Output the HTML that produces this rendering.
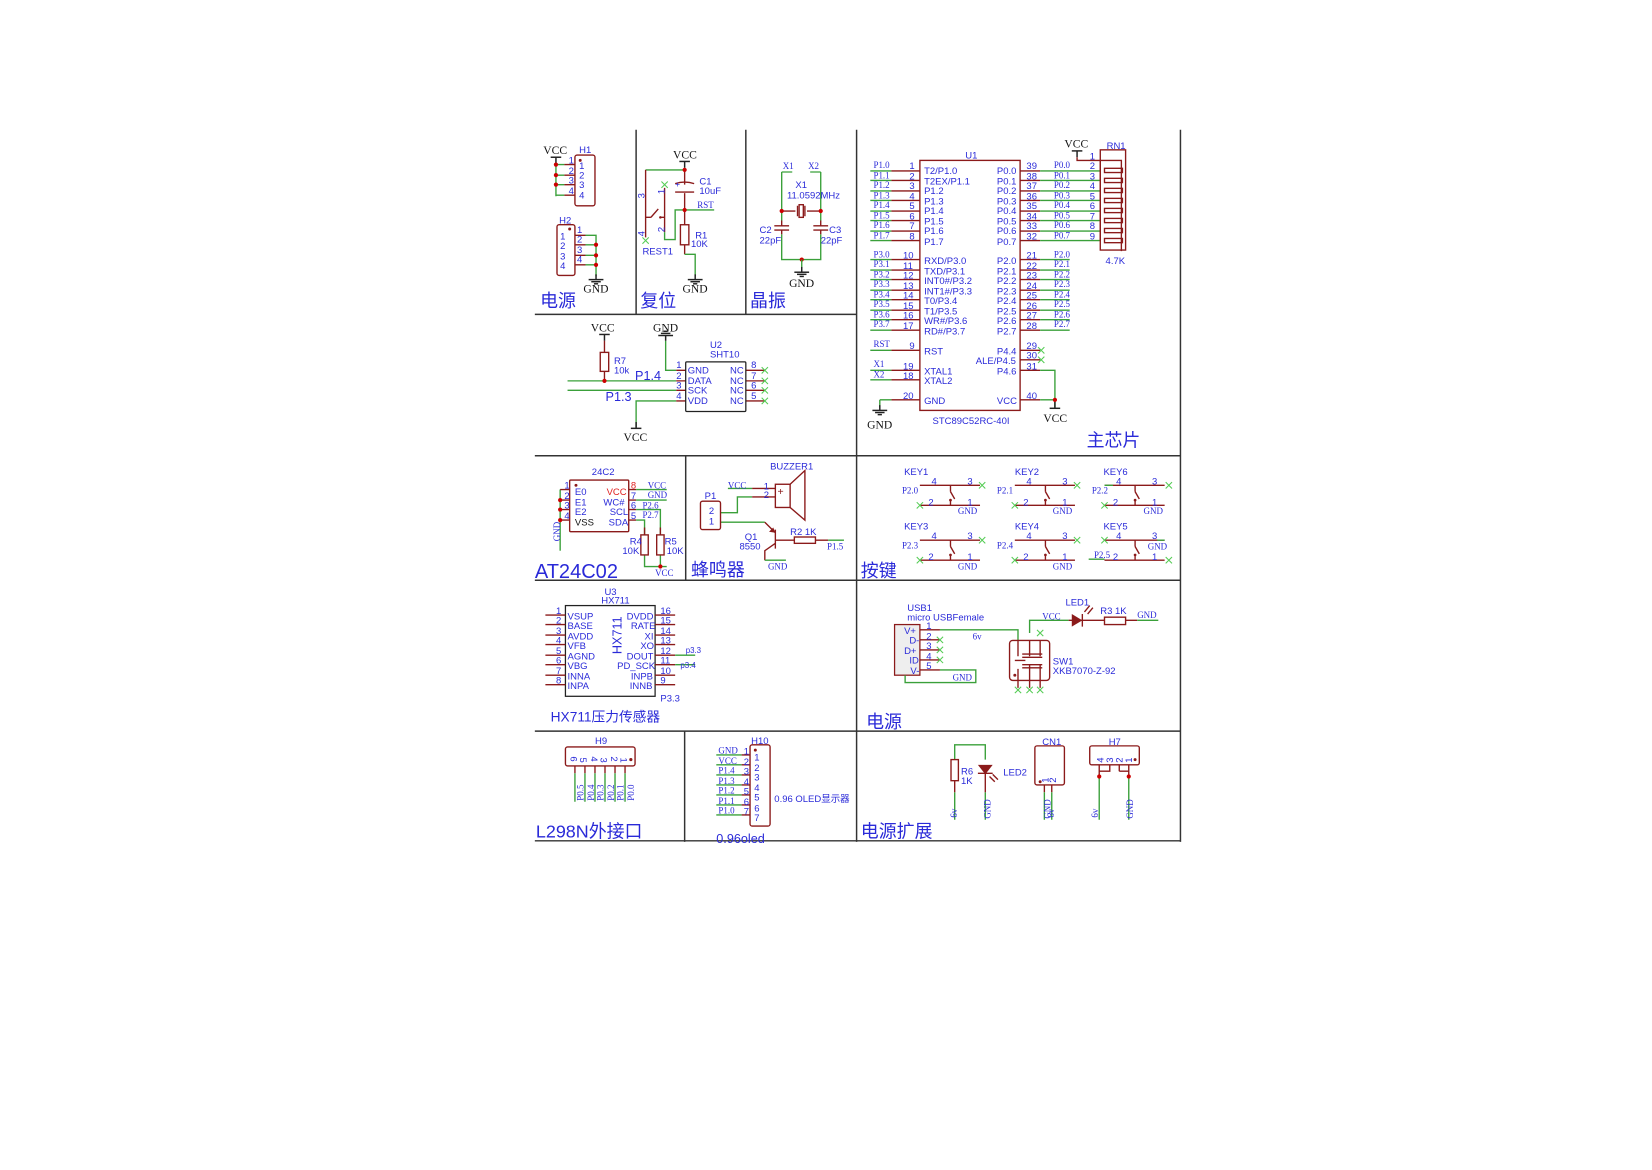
<!DOCTYPE html>
<html><head><meta charset="utf-8"><style>
html,body{margin:0;padding:0;background:#fff;}
svg{display:block}
.r{stroke:#8b1a1a;fill:none;stroke-width:1.3}
.g{stroke:#3aa03a;fill:none;stroke-width:1.3}
.k{stroke:#222;fill:none;stroke-width:1.4}
.x{stroke:#55cc55;fill:none;stroke-width:1}
text{font-family:"Liberation Sans","Noto Sans CJK SC",sans-serif;fill:#2a2ad8;font-size:9px}
.s{font-family:"Liberation Serif",serif;font-size:8.5px}
.b{font-family:"Liberation Serif",serif;fill:#111;font-size:11px}
.t{font-size:17px}
.dot{fill:#cc0000}
.dr{fill:#8b1a1a}
</style></head><body>
<svg width="1652" height="1170" viewBox="0 0 1566 1109" xmlns="http://www.w3.org/2000/svg">
<defs>
<g id="key">
<line class="r" x1="0" y1="0" x2="57" y2="0"/><line class="r" x1="0" y1="19" x2="57" y2="19"/>
<line class="r" x1="29" y1="0" x2="29" y2="6"/><line class="r" x1="29" y1="6" x2="33" y2="13"/>
<line class="r" x1="29" y1="19" x2="29" y2="14"/><circle cx="29" cy="14" r="1.3" class="dr"/>
</g>
<path id="xm" class="x" d="M-3,-3L3,3M-3,3L3,-3"/>
<g id="gnd"><line class="k" x1="0" y1="0" x2="0" y2="5" stroke-width="1"/><line class="k" x1="-7" y1="5" x2="7" y2="5" stroke-width="1"/><line class="k" x1="-4.5" y1="7" x2="4.5" y2="7" stroke-width="1"/><line class="k" x1="-2" y1="9" x2="2" y2="9" stroke-width="1"/></g>
<g id="vcc"><line class="k" x1="-5" y1="0" x2="5" y2="0" stroke-width="1"/><line class="k" x1="0" y1="0" x2="0" y2="6" stroke-width="1"/></g>
</defs>

<!-- frame lines -->
<g stroke="#333" stroke-width="1.4">
<line x1="603" y1="123" x2="603" y2="298"/>
<line x1="707" y1="123" x2="707" y2="298"/>
<line x1="812" y1="123" x2="812" y2="798"/>
<line x1="1119" y1="123" x2="1119" y2="798"/>
<line x1="650" y1="432" x2="650" y2="550"/>
<line x1="649" y1="693" x2="649" y2="798"/>
<line x1="507" y1="298" x2="812" y2="298"/>
<line x1="507" y1="432" x2="1119" y2="432"/>
<line x1="507" y1="550" x2="1119" y2="550"/>
<line x1="507" y1="693" x2="1119" y2="693"/>
<line x1="507" y1="797" x2="1119" y2="797"/>
</g>

<!-- 电源 H1/H2 -->
<text class="b" x="515" y="146">VCC</text>
<use href="#vcc" x="527" y="149"/>
<path class="g" d="M527,155V186M527,156H535M527,166H535M527,175H535M527,185H535"/>
<path class="r" d="M535,156H545M535,166H545M535,175H545M535,185H545"/>
<circle class="dot" cx="527" cy="156" r="2"/><circle class="dot" cx="527" cy="166" r="2"/><circle class="dot" cx="527" cy="175" r="2"/>
<rect class="r" x="545" y="147" width="19" height="48" rx="2"/>
<circle class="dr" cx="550" cy="152" r="1.4"/>
<text x="549" y="145">H1</text>
<text x="539" y="155">1</text><text x="539" y="165">2</text><text x="539" y="174">3</text><text x="539" y="184">4</text>
<text x="549" y="160">1</text><text x="549" y="169">2</text><text x="549" y="178">3</text><text x="549" y="188">4</text>
<rect class="r" x="528" y="213" width="17" height="48" rx="2"/>
<circle class="dr" cx="540" cy="217" r="1.4"/>
<text x="530" y="212">H2</text>
<text x="531" y="227">1</text><text x="531" y="236">2</text><text x="531" y="246">3</text><text x="531" y="255">4</text>
<text x="547" y="221">1</text><text x="547" y="230">2</text><text x="547" y="240">3</text><text x="547" y="249">4</text>
<path class="r" d="M545,223H555M545,232H555M545,242H555M545,251H555"/>
<path class="g" d="M555,223H565V262M555,232H565M555,242H565M555,251H565"/>
<circle class="dot" cx="565" cy="232" r="2"/><circle class="dot" cx="565" cy="242" r="2"/><circle class="dot" cx="565" cy="251" r="2"/>
<use href="#gnd" x="565" y="260"/>
<text class="b" x="553" y="277">GND</text>
<text class="t" x="512" y="291">电源</text>

<!-- 复位 -->
<text class="b" x="638" y="150">VCC</text>
<use href="#vcc" x="649" y="153"/>
<path class="g" d="M649,159V163M612,161H649"/>
<circle class="dot" cx="649" cy="161" r="2"/>
<path class="r" d="M612,161V225M630,178V220M649,163V175M649,183V213M649,232V241"/>
<path class="r" d="M612,206H617M617,206L624,198M626,206H630"/><circle class="dr" cx="626" cy="206" r="1.2"/>
<path class="r" d="M640,174Q649,171 658,174M640,182H658"/>
<text x="640" y="177" style="font-size:8px">+</text>
<path class="g" d="M630,220V227H640V199H677M649,241H659V262"/>
<circle class="dot" cx="649" cy="199" r="2"/>
<rect class="r" x="645" y="213" width="8" height="19"/>
<use href="#xm" x="630" y="175"/><use href="#xm" x="612" y="228"/>
<text x="663" y="175">C1</text><text x="663" y="184">10uF</text>
<text class="s" x="661" y="197">RST</text>
<text x="659" y="226">R1</text><text x="655" y="234">10K</text>
<text x="609" y="241">REST1</text>
<text x="601" y="184" transform="rotate(-90 608 181)" >3</text>
<text x="624" y="184" transform="rotate(-90 627 181)">1</text>
<text x="601" y="220" transform="rotate(-90 608 217)">4</text>
<text x="624" y="220" transform="rotate(-90 627 217)">2</text>
<use href="#gnd" x="659" y="260"/>
<text class="b" x="647" y="277">GND</text>
<text class="t" x="607" y="291">复位</text>

<!-- 晶振 -->
<text class="s" x="742" y="160">X1</text><text class="s" x="766" y="160">X2</text>
<path class="g" d="M741,163H751M768,163H778M741,163V209M778,163V209M741,222V246H778V222"/>
<path class="r" d="M741,200H754M765,200H778M756,195V205M763,195V205"/>
<rect class="r" x="757.5" y="194" width="4" height="12"/>
<path class="r" d="M741,209V214M778,209V214M734,214H748M734,218H748M771,214H785M771,218H785M741,218V222M778,218V222"/>
<circle class="dot" cx="741" cy="200" r="2"/><circle class="dot" cx="778" cy="200" r="2"/><circle class="dot" cx="760" cy="246" r="2"/>
<path class="g" d="M760,246V254"/><use href="#gnd" x="760" y="253"/>
<text x="754" y="178">X1</text><text x="746" y="188">11.0592MHz</text>
<text x="720" y="221">C2</text><text x="720" y="231">22pF</text>
<text x="786" y="221">C3</text><text x="778" y="231">22pF</text>
<text class="b" x="748" y="272">GND</text>
<text class="t" x="711" y="291">晶振</text>

<!-- SHT10 -->
<text class="b" x="560" y="314">VCC</text><use href="#vcc" x="573" y="317"/>
<path class="r" d="M573,323V334M573,352V361"/><rect class="r" x="569" y="334" width="8" height="18"/>
<text x="582" y="345">R7</text><text x="582" y="354">10k</text>
<path class="g" d="M538,361H641M538,370H641M631,323V351H641M641,380H603V405"/>
<circle class="dot" cx="573" cy="361" r="2"/>
<text class="b" x="619" y="314">GND</text>
<g transform="translate(631,323) rotate(180)"><use href="#gnd" x="0" y="0"/></g>
<text x="602" y="360" style="font-size:12px">P1.4</text>
<text x="574" y="380" style="font-size:12px">P1.3</text>
<text class="b" x="591" y="418">VCC</text><use href="#vcc" x="603" y="406" transform="rotate(180 603 406)"/>
<path class="r" d="M641,351H650M641,361H650M641,370H650M641,380H650M707,351H725M707,361H725M707,370H725M707,380H725"/>
<rect x="650" y="343" width="57" height="47" rx="1" fill="none" stroke="#222" stroke-width="1.2"/>
<text x="673" y="330">U2</text><text x="673" y="339">SHT10</text>
<text x="641" y="349">1</text><text x="641" y="359">2</text><text x="641" y="368">3</text><text x="641" y="378">4</text>
<text x="652" y="354">GND</text><text x="652" y="364">DATA</text><text x="652" y="373">SCK</text><text x="652" y="383">VDD</text>
<text x="692" y="354">NC</text><text x="692" y="364">NC</text><text x="692" y="373">NC</text><text x="692" y="383">NC</text>
<text x="712" y="349">8</text><text x="712" y="359">7</text><text x="712" y="368">6</text><text x="712" y="378">5</text>
<use href="#xm" x="725" y="351"/><use href="#xm" x="725" y="361"/><use href="#xm" x="725" y="370"/><use href="#xm" x="725" y="380"/>

<!-- Main chip U1 -->
<rect x="872" y="152" width="95" height="237" fill="none" stroke="#8b1a1a" stroke-width="1.3"/>
<text x="915" y="150">U1</text>
<text x="884" y="402">STC89C52RC-40I</text>
<g>
<path class="g" d="M825,162H845M825,171H845M825,181H845M825,190H845M825,200H845M825,209H845M825,219H845M825,228H845"/>
<path class="g" d="M825,246H845M825,256H845M825,265H845M825,275H845M825,284H845M825,294H845M825,303H845M825,313H845"/>
<path class="g" d="M825,332H845M825,351H845M825,360H845M834,379H845M834,379V386"/>
<path class="r" d="M845,162H872M845,171H872M845,181H872M845,190H872M845,200H872M845,209H872M845,219H872M845,228H872"/>
<path class="r" d="M845,246H872M845,256H872M845,265H872M845,275H872M845,284H872M845,294H872M845,303H872M845,313H872M845,332H872M845,351H872M845,360H872M845,379H872"/>
<path class="r" d="M967,162H986M967,171H986M967,181H986M967,190H986M967,200H986M967,209H986M967,219H986M967,228H986"/>
<path class="r" d="M967,246H986M967,256H986M967,265H986M967,275H986M967,284H986M967,294H986M967,303H986M967,313H986M967,332H986M967,341H986M967,351H986M967,379H986"/>
<path class="g" d="M986,162H1043M986,171H1043M986,181H1043M986,190H1043M986,200H1043M986,209H1043M986,219H1043M986,228H1043"/>
<path class="g" d="M986,246H1014M986,256H1014M986,265H1014M986,275H1014M986,284H1014M986,294H1014M986,303H1014M986,313H1014"/>
<path class="g" d="M986,351H1000V379M986,379H1000V386"/>
<circle class="dot" cx="1000" cy="379" r="2"/>
<use href="#xm" x="987" y="332"/><use href="#xm" x="987" y="341"/>
<use href="#gnd" x="834" y="384"/>
<text class="b" x="822" y="406">GND</text>
<text class="b" x="989" y="400">VCC</text>
<use href="#vcc" x="1000" y="387" transform="rotate(180 1000 387)"/>
</g>
<g class="s">
<text class="s" x="828" y="159">P1.0</text><text class="s" x="828" y="169">P1.1</text><text class="s" x="828" y="178">P1.2</text><text class="s" x="828" y="188">P1.3</text><text class="s" x="828" y="197">P1.4</text><text class="s" x="828" y="207">P1.5</text><text class="s" x="828" y="216">P1.6</text><text class="s" x="828" y="226">P1.7</text>
<text class="s" x="828" y="244">P3.0</text><text class="s" x="828" y="253">P3.1</text><text class="s" x="828" y="263">P3.2</text><text class="s" x="828" y="272">P3.3</text><text class="s" x="828" y="282">P3.4</text><text class="s" x="828" y="291">P3.5</text><text class="s" x="828" y="301">P3.6</text><text class="s" x="828" y="310">P3.7</text>
<text class="s" x="828" y="329">RST</text><text class="s" x="828" y="348">X1</text><text class="s" x="828" y="358">X2</text>
<text class="s" x="999" y="159">P0.0</text><text class="s" x="999" y="169">P0.1</text><text class="s" x="999" y="178">P0.2</text><text class="s" x="999" y="188">P0.3</text><text class="s" x="999" y="197">P0.4</text><text class="s" x="999" y="207">P0.5</text><text class="s" x="999" y="216">P0.6</text><text class="s" x="999" y="226">P0.7</text>
<text class="s" x="999" y="244">P2.0</text><text class="s" x="999" y="253">P2.1</text><text class="s" x="999" y="263">P2.2</text><text class="s" x="999" y="272">P2.3</text><text class="s" x="999" y="282">P2.4</text><text class="s" x="999" y="291">P2.5</text><text class="s" x="999" y="301">P2.6</text><text class="s" x="999" y="310">P2.7</text>
</g>
<g style="font-size:9.5px">
<text x="862" y="160">1</text><text x="862" y="170">2</text><text x="862" y="179">3</text><text x="862" y="189">4</text><text x="862" y="198">5</text><text x="862" y="208">6</text><text x="862" y="217">7</text><text x="862" y="227">8</text>
<text x="856" y="245">10</text><text x="856" y="255">11</text><text x="856" y="264">12</text><text x="856" y="274">13</text><text x="856" y="283">14</text><text x="856" y="293">15</text><text x="856" y="302">16</text><text x="856" y="312">17</text>
<text x="862" y="331">9</text><text x="856" y="350">19</text><text x="856" y="359">18</text><text x="856" y="378">20</text>
<text x="973" y="160">39</text><text x="973" y="170">38</text><text x="973" y="179">37</text><text x="973" y="189">36</text><text x="973" y="198">35</text><text x="973" y="208">34</text><text x="973" y="217">33</text><text x="973" y="227">32</text>
<text x="973" y="245">21</text><text x="973" y="255">22</text><text x="973" y="264">23</text><text x="973" y="274">24</text><text x="973" y="283">25</text><text x="973" y="293">26</text><text x="973" y="302">27</text><text x="973" y="312">28</text>
<text x="973" y="331">29</text><text x="973" y="340">30</text><text x="973" y="350">31</text><text x="973" y="378">40</text>
<text x="876" y="165">T2/P1.0</text><text x="876" y="175">T2EX/P1.1</text><text x="876" y="184">P1.2</text><text x="876" y="194">P1.3</text><text x="876" y="203">P1.4</text><text x="876" y="213">P1.5</text><text x="876" y="222">P1.6</text><text x="876" y="232">P1.7</text>
<text x="876" y="250">RXD/P3.0</text><text x="876" y="260">TXD/P3.1</text><text x="876" y="269">INT0#/P3.2</text><text x="876" y="279">INT1#/P3.3</text><text x="876" y="288">T0/P3.4</text><text x="876" y="298">T1/P3.5</text><text x="876" y="307">WR#/P3.6</text><text x="876" y="317">RD#/P3.7</text>
<text x="876" y="336">RST</text><text x="876" y="355">XTAL1</text><text x="876" y="364">XTAL2</text><text x="876" y="383">GND</text>
<text x="945" y="165">P0.0</text><text x="945" y="175">P0.1</text><text x="945" y="184">P0.2</text><text x="945" y="194">P0.3</text><text x="945" y="203">P0.4</text><text x="945" y="213">P0.5</text><text x="945" y="222">P0.6</text><text x="945" y="232">P0.7</text>
<text x="945" y="250">P2.0</text><text x="945" y="260">P2.1</text><text x="945" y="269">P2.2</text><text x="945" y="279">P2.3</text><text x="945" y="288">P2.4</text><text x="945" y="298">P2.5</text><text x="945" y="307">P2.6</text><text x="945" y="317">P2.7</text>
<text x="945" y="336">P4.4</text><text x="925" y="345">ALE/P4.5</text><text x="945" y="355">P4.6</text><text x="945" y="383">VCC</text>
</g>
<!-- RN1 -->
<text class="b" x="1009" y="140">VCC</text><use href="#vcc" x="1021" y="143"/>
<path class="r" d="M1021,149V152H1063V238M1043,152V228"/>
<rect class="r" x="1043" y="142" width="24" height="95"/>
<g class="r">
<rect x="1047" y="159.5" width="17" height="4"/><rect x="1047" y="169" width="17" height="4"/><rect x="1047" y="178.5" width="17" height="4"/><rect x="1047" y="188" width="17" height="4"/><rect x="1047" y="197.5" width="17" height="4"/><rect x="1047" y="207" width="17" height="4"/><rect x="1047" y="216.5" width="17" height="4"/><rect x="1047" y="226" width="17" height="4"/>
</g>
<text x="1049" y="141">RN1</text><text x="1048" y="250">4.7K</text>
<g style="font-size:9.5px"><text x="1033" y="151">1</text><text x="1033" y="160">2</text><text x="1033" y="170">3</text><text x="1033" y="179">4</text><text x="1033" y="189">5</text><text x="1033" y="198">6</text><text x="1033" y="208">7</text><text x="1033" y="217">8</text><text x="1033" y="227">9</text></g>
<text class="t" x="1030" y="423">主芯片</text>

<!-- AT24C02 -->
<text x="561" y="450">24C2</text>
<rect class="r" x="540" y="455" width="56" height="49" rx="1"/>
<circle class="dr" cx="546" cy="460" r="1.4"/>
<path class="g" d="M531,464V522"/>
<path class="r" d="M531,464H540M531,474H540M531,483H540M531,493H540M596,464H603M596,474H603M596,483H603M596,493H603"/>
<circle class="dot" cx="531" cy="474" r="2"/><circle class="dot" cx="531" cy="483" r="2"/><circle class="dot" cx="531" cy="493" r="2"/>
<text class="s" x="530" y="520" transform="rotate(-90 527 516)">GND</text>
<text x="535" y="463">1</text><text x="535" y="473">2</text><text x="535" y="482">3</text><text x="535" y="492">4</text>
<text x="545" y="469">E0</text><text x="545" y="479">E1</text><text x="545" y="488">E2</text><text x="545" y="498" style="fill:#111">VSS</text>
<text x="575" y="469" style="fill:#e02020">VCC</text><text x="572" y="479">WC#</text><text x="578" y="488">SCL</text><text x="577" y="498">SDA</text>
<text x="598" y="463" style="fill:#e02020">8</text><text x="598" y="473">7</text><text x="598" y="482">6</text><text x="598" y="492">5</text>
<path class="g" d="M603,464H632M603,474H632M603,483H626V507M603,493H611V507M611,526V537H632M626,526V537"/>
<path class="r" d="M611,500V507M626,500V507"/>
<rect class="r" x="607.5" y="507" width="7" height="19"/><rect class="r" x="622.5" y="507" width="7" height="19"/>
<circle class="dot" cx="626" cy="537" r="2"/>
<text class="s" x="614" y="463">VCC</text><text class="s" x="614" y="472">GND</text><text class="s" x="609" y="482">P2.6</text><text class="s" x="609" y="491">P2.7</text>
<text x="597" y="516">R4</text><text x="590" y="525">10K</text><text x="630" y="516">R5</text><text x="632" y="525">10K</text>
<text class="s" x="621" y="546">VCC</text>
<text class="t" x="507" y="548" style="font-size:19px">AT24C02</text>

<!-- buzzer -->
<text x="730" y="445">BUZZER1</text>
<path class="g" d="M690,463H713M683,486H699V471H713M683,495H725"/>
<path class="r" d="M713,463H735M713,471H735"/>
<rect class="r" x="735" y="459" width="14" height="22"/>
<path class="r" d="M749,459L763,446V493L749,481"/>
<text x="737" y="469" style="font-size:10px;fill:#8b1a1a">+</text>
<text class="s" x="690" y="463">VCC</text>
<text x="724" y="464">1</text><text x="724" y="472">2</text>
<rect class="r" x="664" y="475" width="19" height="27" rx="2"/>
<text x="668" y="473">P1</text><text x="672" y="487">2</text><text x="672" y="497">1</text>
<path class="r" d="M725,495L735,505M735,502V520M735,512H753M773,512H785M735,515L725,522V531"/>
<path class="dr" d="M735,505L729,504L733,500Z"/>
<rect class="r" x="753" y="509" width="20" height="6"/>
<path class="g" d="M785,512H800M725,531H745"/>
<text x="706" y="512">Q1</text><text x="701" y="521">8550</text>
<text x="749" y="507">R2 1K</text>
<text class="s" x="784" y="521">P1.5</text>
<text class="s" x="728" y="540">GND</text>
<text class="t" x="655" y="546">蜂鸣器</text>

<!-- keys -->
<use href="#key" x="872" y="460"/><use href="#key" x="962" y="460"/><use href="#key" x="1047" y="460"/>
<use href="#key" x="872" y="512"/><use href="#key" x="962" y="512"/><use href="#key" x="1047" y="512"/>
<text x="857" y="450">KEY1</text><text x="962" y="450">KEY2</text><text x="1046" y="450">KEY6</text>
<text x="857" y="502">KEY3</text><text x="962" y="502">KEY4</text><text x="1046" y="502">KEY5</text>
<g style="font-size:9.5px">
<text x="883" y="459">4</text><text x="917" y="459">3</text><text x="880" y="479">2</text><text x="917" y="479">1</text>
<text x="973" y="459">4</text><text x="1007" y="459">3</text><text x="970" y="479">2</text><text x="1007" y="479">1</text>
<text x="1058" y="459">4</text><text x="1092" y="459">3</text><text x="1055" y="479">2</text><text x="1092" y="479">1</text>
<text x="883" y="511">4</text><text x="917" y="511">3</text><text x="880" y="531">2</text><text x="917" y="531">1</text>
<text x="973" y="511">4</text><text x="1007" y="511">3</text><text x="970" y="531">2</text><text x="1007" y="531">1</text>
<text x="1058" y="511">4</text><text x="1092" y="511">3</text><text x="1055" y="531">2</text><text x="1092" y="531">1</text>
</g>
<g class="s">
<text class="s" x="855" y="468">P2.0</text><text class="s" x="945" y="468">P2.1</text><text class="s" x="1035" y="468">P2.2</text>
<text class="s" x="855" y="520">P2.3</text><text class="s" x="945" y="520">P2.4</text><text class="s" x="1037" y="529">P2.5</text>
<text class="s" x="908" y="487">GND</text><text class="s" x="998" y="487">GND</text><text class="s" x="1084" y="487">GND</text>
<text class="s" x="908" y="540">GND</text><text class="s" x="998" y="540">GND</text><text class="s" x="1088" y="521">GND</text>
</g>
<path class="g" d="M1047,460H1055M1032,530H1047M1097,512H1104"/>
<use href="#xm" x="931" y="460"/><use href="#xm" x="872" y="479"/><use href="#xm" x="1021" y="460"/><use href="#xm" x="962" y="479"/>
<use href="#xm" x="1108" y="460"/><use href="#xm" x="1047" y="479"/>
<use href="#xm" x="931" y="512"/><use href="#xm" x="872" y="531"/><use href="#xm" x="1021" y="512"/><use href="#xm" x="962" y="531"/>
<use href="#xm" x="1047" y="512"/><use href="#xm" x="1108" y="531"/>
<text class="t" x="816" y="547">按键</text>

<!-- HX711 -->
<text x="573" y="564">U3</text><text x="570" y="572">HX711</text>
<rect x="536" y="574" width="85" height="86" fill="none" stroke="#222" stroke-width="1.2"/>
<path class="r" d="M517,583H536M517,592H536M517,602H536M517,611H536M517,621H536M517,630H536M517,640H536M517,649H536M621,583H640M621,592H640M621,602H640M621,611H640M621,621H640M621,630H640M621,640H640M621,649H640"/>
<path class="g" d="M640,621H659M640,630H659"/>
<g style="font-size:9.5px">
<text x="527" y="582">1</text><text x="527" y="591">2</text><text x="527" y="601">3</text><text x="527" y="610">4</text><text x="527" y="620">5</text><text x="527" y="629">6</text><text x="527" y="639">7</text><text x="527" y="648">8</text>
<text x="626" y="582">16</text><text x="626" y="591">15</text><text x="626" y="601">14</text><text x="626" y="610">13</text><text x="626" y="620">12</text><text x="626" y="629">11</text><text x="626" y="639">10</text><text x="626" y="648">9</text>
<text x="538" y="587">VSUP</text><text x="538" y="596">BASE</text><text x="538" y="606">AVDD</text><text x="538" y="615">VFB</text><text x="538" y="625">AGND</text><text x="538" y="634">VBG</text><text x="538" y="644">INNA</text><text x="538" y="653">INPA</text>
<text x="594" y="587">DVDD</text><text x="598" y="596">RATE</text><text x="611" y="606">XI</text><text x="607" y="615">XO</text><text x="594" y="625">DOUT</text><text x="585" y="634">PD_SCK</text><text x="598" y="644">INPB</text><text x="597" y="653">INNB</text>
</g>
<text x="585" y="624" style="font-size:12px" transform="rotate(-90 585 620)">HX711</text>
<text x="650" y="619" style="font-size:7.5px">p3.3</text><text x="645" y="633" style="font-size:7.5px">p3.4</text>
<text x="626" y="665">P3.3</text>
<text x="522" y="684" style="font-size:13px">HX711压力传感器</text>

<!-- USB / power -->
<text x="860" y="579">USB1</text><text x="860" y="588">micro USBFemale</text>
<rect x="848" y="592" width="24" height="48" fill="#eee" stroke="#8b1a1a" stroke-width="1.2"/>
<path class="r" d="M872,597H891M872,606.5H891M872,616H891M872,625.5H891M872,635H891"/>
<path class="g" d="M891,597H965V607M891,635H925V647H858V640"/>
<use href="#xm" x="891" y="606.5"/><use href="#xm" x="891" y="616"/><use href="#xm" x="891" y="625.5"/>
<g style="font-size:9.5px"><text x="857" y="601">V+</text><text x="862" y="610">D-</text><text x="857" y="620">D+</text><text x="862" y="629">ID</text><text x="863" y="639">V-</text>
<text x="878" y="596">1</text><text x="878" y="606">2</text><text x="878" y="615">3</text><text x="878" y="625">4</text><text x="878" y="634">5</text></g>
<text class="s" x="922" y="606">6v</text>
<text class="s" x="903" y="645">GND</text>
<rect class="r" x="957" y="607" width="38" height="38" rx="3"/>
<path class="r" d="M965,607V622M976,607V622M986,607V622M965,634V652M976,630V652M986,630V652M969,620H988M969,623H988M969,630H988M969,633H988M962,626H972"/>
<circle class="dr" cx="962" cy="640" r="1.4"/>
<path class="g" d="M976,600V588H1013"/>
<use href="#xm" x="986" y="600"/><use href="#xm" x="965" y="654"/><use href="#xm" x="976" y="654"/><use href="#xm" x="986" y="654"/>
<text class="s" x="988" y="587">VCC</text>
<path class="r" d="M1013,588H1047M1067,588H1078M1026,582V594"/>
<path class="dr" d="M1016,582L1026,588L1016,594Z"/>
<path class="r" d="M1028,580L1033,574M1031,582L1036,576"/>
<rect class="r" x="1047" y="585" width="20" height="7"/>
<path class="g" d="M1078,588H1098"/>
<text x="1010" y="574">LED1</text><text x="1043" y="582">R3 1K</text>
<text class="s" x="1078" y="586">GND</text>
<text x="998" y="630">SW1</text><text x="998" y="639">XKB7070-Z-92</text>
<text class="t" x="821" y="690">电源</text>

<!-- H9 -->
<text x="564" y="705">H9</text>
<rect class="r" x="536" y="708" width="66" height="18" rx="2"/>
<circle class="dr" cx="598" cy="720" r="1.5"/>
<path class="r" d="M545,726V733M554.5,726V733M564,726V733M573.5,726V733M583,726V733M592.5,726V733"/>
<path class="g" d="M545,733V760M554.5,733V760M564,733V760M573.5,733V760M583,733V760M592.5,733V760"/>
<g style="font-size:8px">
<text x="540" y="724" transform="rotate(90 544 721)">6</text><text x="550" y="724" transform="rotate(90 553 721)">5</text><text x="559" y="724" transform="rotate(90 563 721)">4</text><text x="569" y="724" transform="rotate(90 572 721)">3</text><text x="578" y="724" transform="rotate(90 582 721)">2</text><text x="588" y="724" transform="rotate(90 591 721)">1</text>
</g>
<g class="s">
<text class="s" x="546" y="760" transform="rotate(-90 549 756)">P0.5</text><text class="s" x="556" y="760" transform="rotate(-90 559 756)">P0.4</text><text class="s" x="565" y="760" transform="rotate(-90 568 756)">P0.3</text><text class="s" x="575" y="760" transform="rotate(-90 578 756)">P0.2</text><text class="s" x="584" y="760" transform="rotate(-90 587 756)">P0.1</text><text class="s" x="594" y="760" transform="rotate(-90 597 756)">P0.0</text>
</g>
<text class="t" x="508" y="794">L298N外接口</text>

<!-- H10 -->
<text x="712" y="705">H10</text>
<rect class="r" x="711" y="706" width="19" height="77" rx="2"/>
<circle class="dr" cx="716" cy="711" r="1.4"/>
<path class="r" d="M703,715.6H711M703,725H711M703,734.5H711M703,744H711M703,753.5H711M703,763H711M703,772.5H711"/>
<path class="g" d="M679,715.6H703M679,725H703M679,734.5H703M679,744H703M679,753.5H703M679,763H703M679,772.5H703"/>
<g class="s"><text class="s" x="681" y="714">GND</text><text class="s" x="681" y="724">VCC</text><text class="s" x="681" y="733">P1.4</text><text class="s" x="681" y="743">P1.3</text><text class="s" x="681" y="752">P1.2</text><text class="s" x="681" y="762">P1.1</text><text class="s" x="681" y="771">P1.0</text></g>
<g style="font-size:9.5px">
<text x="705" y="715">1</text><text x="705" y="725">2</text><text x="705" y="734">3</text><text x="705" y="744">4</text><text x="705" y="753">5</text><text x="705" y="763">6</text><text x="705" y="772">7</text>
<text x="715" y="721">1</text><text x="715" y="731">2</text><text x="715" y="740">3</text><text x="715" y="750">4</text><text x="715" y="759">5</text><text x="715" y="769">6</text><text x="715" y="778">7</text>
</g>
<text x="734" y="760">0.96 OLED显示器</text>
<text x="679" y="799" style="font-size:12px">0.96oled</text>

<!-- power ext -->
<path class="g" d="M905,720V706H934V720M905,751V777M934,751V777"/>
<rect class="r" x="901.5" y="720" width="7" height="20"/>
<path class="r" d="M905,740V751M934,733V751M927,733H941"/>
<path class="dr" d="M927,725H941L934,734Z"/>
<path class="r" d="M938,736L943,741M941,734L946,739"/>
<text x="911" y="734">R6</text><text x="911" y="743">1K</text>
<text x="951" y="735">LED2</text>
<text class="s" x="900" y="776" transform="rotate(-90 903 772)">6v</text>
<text class="s" x="925" y="778" transform="rotate(-90 931 770)">GND</text>
<text x="988" y="706">CN1</text>
<rect class="r" x="981" y="707" width="28" height="37" rx="2"/>
<circle class="dr" cx="986" cy="741" r="1.4"/>
<path class="r" d="M990,744V751M997,744V751"/>
<path class="g" d="M990,751V777M997,751V777"/>
<text x="988" y="744" transform="rotate(-90 990 740)">1</text><text x="995" y="744" transform="rotate(-90 997 740)">2</text>
<text class="s" x="982" y="778" transform="rotate(-90 988 770)">GND</text>
<text class="s" x="992" y="776" transform="rotate(-90 995 772)">6v</text>
<text x="1051" y="706">H7</text>
<rect class="r" x="1033" y="707" width="47" height="18" rx="2"/>
<circle class="dr" cx="1076" cy="720" r="1.4"/>
<path class="r" d="M1042,725V736M1052,725V731H1042M1061,725V731M1070,725V736M1061,731H1070"/>
<path class="g" d="M1042,736V777M1070,736V777"/>
<circle class="dot" cx="1042" cy="736" r="2"/><circle class="dot" cx="1070" cy="736" r="2"/>
<g style="font-size:8px"><text x="1040" y="723" transform="rotate(-90 1043 720)">4</text><text x="1049" y="723" transform="rotate(-90 1052 720)">3</text><text x="1058" y="723" transform="rotate(-90 1061 720)">2</text><text x="1067" y="723" transform="rotate(-90 1070 720)">1</text></g>
<text class="s" x="1034" y="776" transform="rotate(-90 1037 772)">6v</text>
<text class="s" x="1060" y="778" transform="rotate(-90 1066 770)">GND</text>
<text class="t" x="816" y="794">电源扩展</text>
</svg>
</body></html>
